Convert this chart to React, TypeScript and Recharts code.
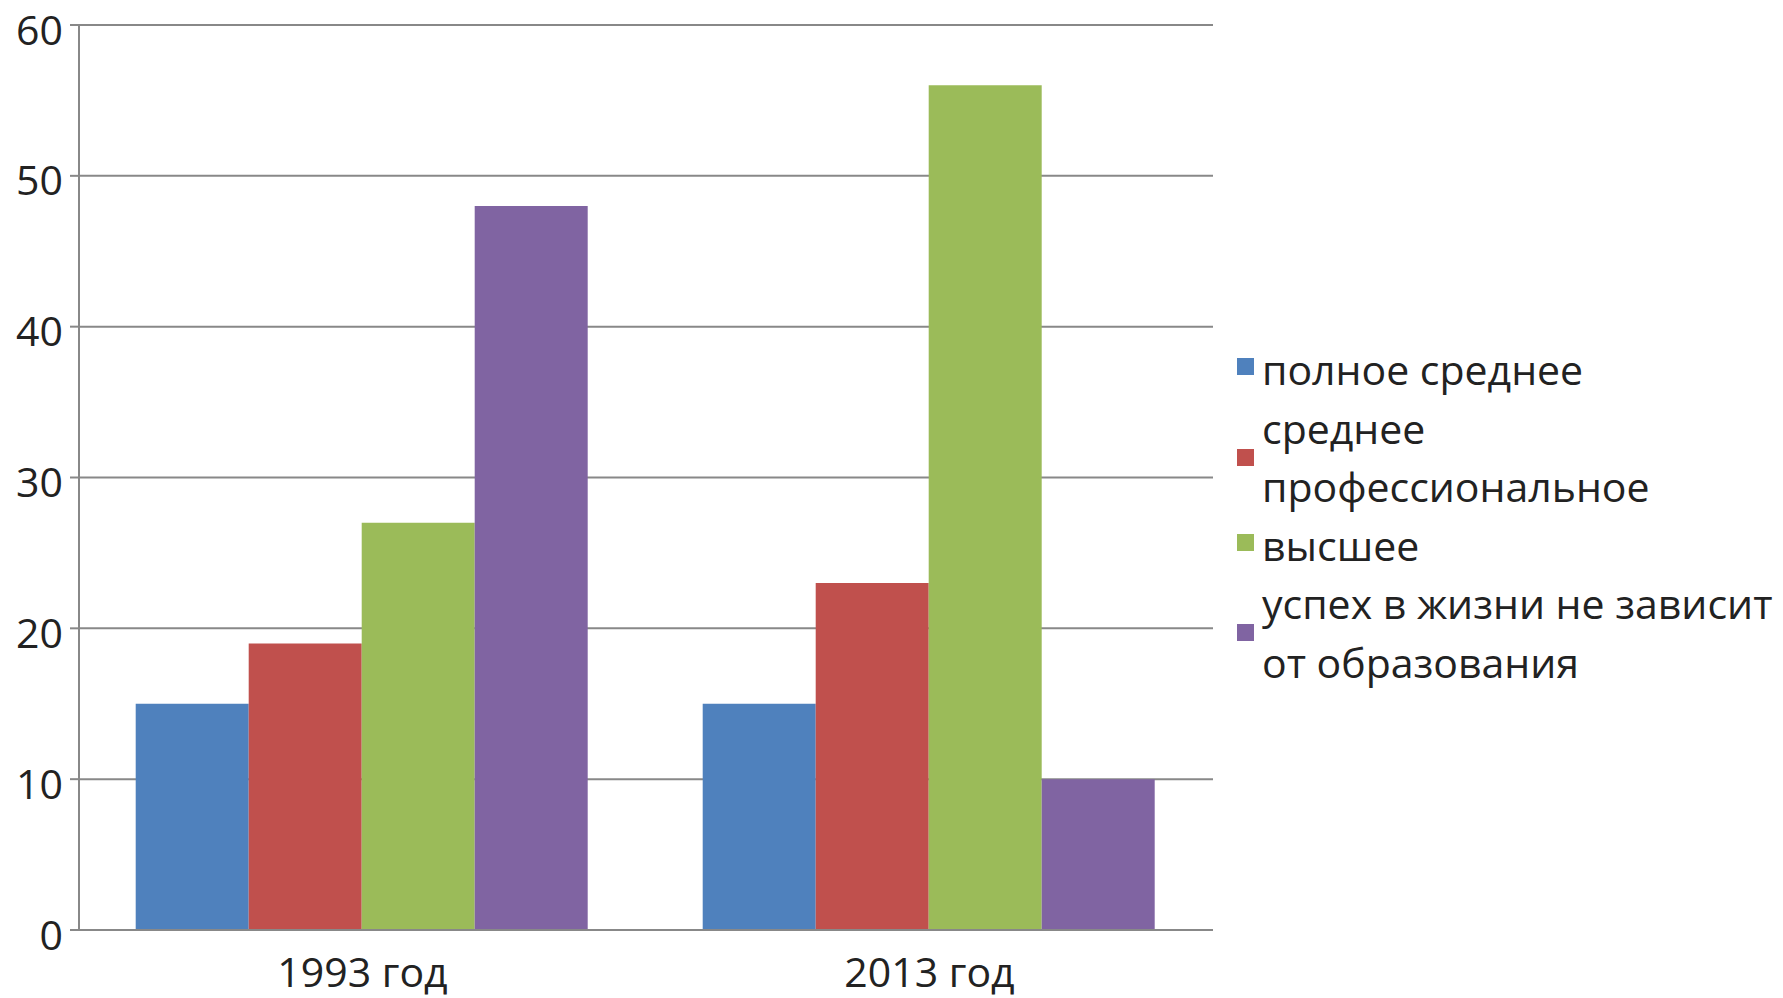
import React from 'react';
import { BarChart, Bar, XAxis, YAxis, CartesianGrid, Legend } from 'recharts';

const years = ['1993 год', '2013 год'];
const fullSecondary = [15, 15];
const vocational = [19, 23];
const higher = [27, 56];
const independent = [48, 10];

const seriesKeys = ['s1', 's2', 's3', 's4'];
const seriesNames = [
  'полное среднее',
  'среднее профессиональное',
  'высшее',
  'успех в жизни не зависит от образования',
];
const legendLines = [
  ['полное среднее'],
  ['среднее', 'профессиональное'],
  ['высшее'],
  ['успех в жизни не зависит', 'от образования'],
];
const seriesColors = ['#4F81BD', '#C0504D', '#9BBB59', '#8064A2'];
const yTicks = [0, 10, 20, 30, 40, 50, 60];
const edgeTicks = [0, 1, 2];

const data = years.map((year, i) => ({
  year,
  s1: fullSecondary[i],
  s2: vocational[i],
  s3: higher[i],
  s4: independent[i],
}));

const FONT = '"Open Sans", "DejaVu Sans", sans-serif';
const AXIS = '#888888';

const renderLegend = () => (
  <div style={{ fontFamily: FONT, fontSize: 41, color: '#222', lineHeight: '58.5px' }}>
    {seriesNames.map((name, i) => (
      <div key={name} style={{ display: 'flex', alignItems: 'center', whiteSpace: 'nowrap' }}>
        <div
          style={{
            width: 17,
            height: 17,
            background: seriesColors[i],
            marginRight: 8,
            marginTop: legendLines[i].length === 1 ? -5 : 0,
            flex: '0 0 auto',
          }}
        />
        <div>
          {legendLines[i].map((line) => (
            <div key={line}>{line}</div>
          ))}
        </div>
      </div>
    ))}
  </div>
);

export default function App() {
  return (
    <div style={{ position: 'absolute', left: 0, top: 0, width: 1783, height: 998, background: '#fff' }}>
      <BarChart
        width={1783}
        height={998}
        data={data}
        margin={{ top: 25, right: 570, bottom: 0, left: 1 }}
        barCategoryGap="10%"
        barGap={0}
      >
        <CartesianGrid vertical={false} stroke={AXIS} strokeWidth={2} />
        <XAxis
          xAxisId="edges"
          type="number"
          domain={[0, 2]}
          ticks={edgeTicks}
          tickFormatter={() => ''}
          axisLine={false}
          tickLine={{ stroke: AXIS, strokeWidth: 2 }}
          tickSize={10}
          height={0}
        />
        <XAxis
          dataKey="year"
          tickLine={false}
          tickSize={0}
          tickMargin={28}
          axisLine={{ stroke: AXIS, strokeWidth: 2 }}
          tick={{ fontSize: 41, fill: '#222', fontFamily: FONT }}
          height={68}
        />
        <YAxis
          domain={[0, 60]}
          ticks={yTicks}
          width={78}
          tickSize={9}
          tickMargin={7}
          axisLine={{ stroke: AXIS, strokeWidth: 2 }}
          tickLine={{ stroke: AXIS, strokeWidth: 2 }}
          tick={{ fontSize: 41, fill: '#222', fontFamily: FONT, dy: 5 }}
        />
        <Legend
          layout="vertical"
          align="center"
          verticalAlign="middle"
          content={renderLegend}
          wrapperStyle={{ left: 1237, top: 340, width: 546 }}
        />
        {seriesKeys.map((k, i) => (
          <Bar key={k} dataKey={k} name={seriesNames[i]} fill={seriesColors[i]} isAnimationActive={false} />
        ))}
      </BarChart>
    </div>
  );
}
